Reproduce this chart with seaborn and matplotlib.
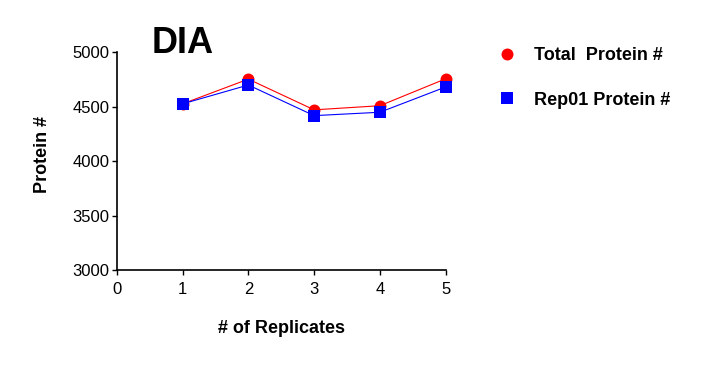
import pandas as pd
import seaborn as sns
import matplotlib.pyplot as plt

replicates = [1, 2, 3, 4, 5]
total_protein = [4525, 4752, 4470, 4508, 4755]
rep01_protein = [4525, 4698, 4417, 4448, 4680]
series_names = ["Total  Protein #", "Rep01 Protein #"]

df = pd.DataFrame({
    "rep": replicates * 2,
    "count": total_protein + rep01_protein,
    "series": [series_names[0]] * 5 + [series_names[1]] * 5,
})

sns.set_style("ticks")
plt.rcParams['font.family'] = ['Liberation Sans', 'DejaVu Sans']
plt.rcParams['text.color'] = 'black'
plt.rcParams['axes.labelcolor'] = 'black'

fig = plt.figure(figsize=(7.12, 3.72), dpi=100)
ax = fig.add_axes([0.164, 0.274, 0.462, 0.586])

sns.lineplot(data=df, x="rep", y="count", hue="series", style="series",
             palette={series_names[0]: "#ff0000", series_names[1]: "#0000ff"},
             markers={series_names[0]: "o", series_names[1]: "s"},
             dashes=False, markersize=8.6, markeredgewidth=0, linewidth=0.8,
             clip_on=False, ax=ax)

ax.set_xlim(0, 5)
ax.set_ylim(3000, 5000)
ax.set_xticks([0, 1, 2, 3, 4, 5])
ax.set_yticks([3000, 3500, 4000, 4500, 5000])
ax.tick_params(labelsize=12, length=3.5, width=1, colors="black")
ax.tick_params(axis="y", pad=2)
ax.tick_params(axis="x", pad=5)
for s in ["left", "bottom"]:
    ax.spines[s].set_linewidth(1.2)
    ax.spines[s].set_color("black")
sns.despine(ax=ax)

ax.set_xlabel("# of Replicates", fontsize=13, fontweight="bold")
ax.xaxis.set_label_coords(0.5, -0.229)
ax.set_ylabel("Protein #", fontsize=13, fontweight="bold")
ax.yaxis.set_label_coords(-0.201, 0.53)
ax.text(0.53, 4990, "DIA", fontsize=26, fontweight="bold", va="baseline", ha="left")

leg = ax.legend(loc="upper left", bbox_to_anchor=(1.11, 1.097), frameon=False,
                fontsize=13, handlelength=1.0, labelspacing=1.52, handletextpad=1.0)
for t in leg.get_texts():
    t.set_fontweight("bold")
for h in leg.legend_handles:
    h.set_linestyle("none")

fig.savefig("out.png", dpi=100)
